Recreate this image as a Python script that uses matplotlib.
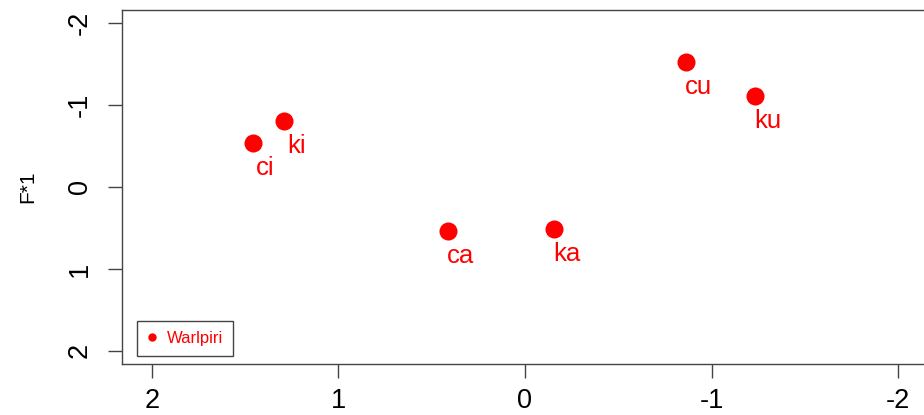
import matplotlib
matplotlib.use("Agg")
import matplotlib.pyplot as plt
from matplotlib.lines import Line2D

plt.rcParams['font.family'] = ['Liberation Sans', 'DejaVu Sans']

# Syllable positions on the two dimensions
labels = ["ci", "ki", "ca", "ka", "cu", "ku"]
dim_x = [1.46, 1.29, 0.415, -0.155, -0.865, -1.235]
dim_y = [-0.54, -0.80, 0.54, 0.51, -1.52, -1.11]
group_name = "Warlpiri"
tick_vals = [2, 1, 0, -1, -2]
ytick_vals = [-2, -1, 0, 1, 2]

W, H = 924, 415
fig = plt.figure(figsize=(W / 100, H / 100), dpi=100)
ax = fig.add_axes([122 / W, 1 - 364 / H, (928 - 122) / W, (364 - 10) / H])

ax.scatter(dim_x, dim_y, s=13 ** 2, color="red", zorder=3, linewidths=0)
for lab, x, y in zip(labels, dim_x, dim_y):
    ax.annotate(lab, (x, y), xytext=(9, -18), textcoords="offset points",
                ha="center", va="center", color="red", fontsize=18.5)

ax.set_xlim(2.16, -2.16)
ax.set_ylim(2.16, -2.16)
ax.set_xticks(tick_vals)
ax.set_xticklabels([str(v) for v in tick_vals])
ax.set_yticks(ytick_vals)
ax.set_yticklabels([str(v) for v in ytick_vals], rotation=90, va="center")

edge = "#444444"
for sp in ax.spines.values():
    sp.set_color(edge)
    sp.set_linewidth(1.0)
ax.tick_params(axis="both", length=10, width=1.0, color=edge, labelsize=19.5)
ax.tick_params(axis="x", pad=7)
ax.tick_params(axis="y", pad=11)

fig.text(28 / W, 1 - 187 / H, "F*1", rotation=90, ha="center", va="center",
         fontsize=15)

handle = Line2D([], [], marker="o", color="red", linestyle="", markersize=5)
leg = ax.legend([handle], [group_name], loc="lower left",
                bbox_to_anchor=((137 - 122) / 806, (364 - 356) / 354),
                borderaxespad=0, fontsize=12, labelcolor="red",
                fancybox=False, edgecolor=edge, framealpha=1,
                handlelength=0.6, handletextpad=0.6, borderpad=0.6)
leg.get_frame().set_linewidth(1.0)

fig.savefig("out.png", dpi=100)
